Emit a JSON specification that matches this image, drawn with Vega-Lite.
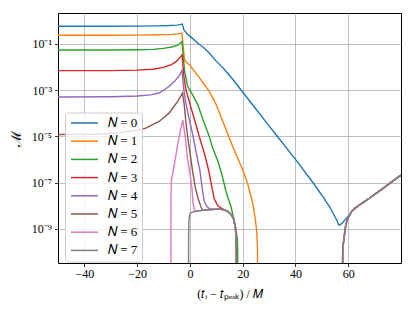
{
"$schema": "https://vega.github.io/schema/vega-lite/v6.json",
"width": 343, "height": 250,
"autosize": "none",
"padding": {"left": 58, "top": 13, "right": 14, "bottom": 48},
"background": "white",
"config": {"view": {"stroke": "black", "strokeWidth": 1}, "font": "Liberation Serif"},
"datasets": {
"curves": [
{"N":"𝑁 = 0","t":-50,"M":0.5754},{"N":"𝑁 = 0","t":-40,"M":0.5754},{"N":"𝑁 = 0","t":-30,"M":0.5754},{"N":"𝑁 = 0","t":-20,"M":0.5821},{"N":"𝑁 = 0","t":-12,"M":0.5957},{"N":"𝑁 = 0","t":-8,"M":0.6166},{"N":"𝑁 = 0","t":-5,"M":0.6457},{"N":"𝑁 = 0","t":-3.8,"M":0.6761},{"N":"𝑁 = 0","t":-2.9,"M":0.7079},{"N":"𝑁 = 0","t":-2.3,"M":0.4074},{"N":"𝑁 = 0","t":-0.8,"M":0.2455},{"N":"𝑁 = 0","t":0,"M":0.2138},{"N":"𝑁 = 0","t":3.5,"M":0.0955},{"N":"𝑁 = 0","t":5.5,"M":0.06457},{"N":"𝑁 = 0","t":7.3,"M":0.03981},{"N":"𝑁 = 0","t":10,"M":0.01778},{"N":"𝑁 = 0","t":13,"M":0.007943},{"N":"𝑁 = 0","t":16,"M":0.003162},{"N":"𝑁 = 0","t":19.4,"M":0.001},{"N":"𝑁 = 0","t":25,"M":1.514e-4},{"N":"𝑁 = 0","t":30,"M":2.818e-5},{"N":"𝑁 = 0","t":33.1,"M":1e-5},{"N":"𝑁 = 0","t":40,"M":1e-6},{"N":"𝑁 = 0","t":46.6,"M":1e-7},{"N":"𝑁 = 0","t":50,"M":2.818e-8},{"N":"𝑁 = 0","t":53,"M":8.71e-9},{"N":"𝑁 = 0","t":55.5,"M":2.512e-9},{"N":"𝑁 = 0","t":56.5,"M":1.413e-9},{"N":"𝑁 = 0","t":57.5,"M":1.66e-9},{"N":"𝑁 = 0","t":59.3,"M":2.818e-9},{"N":"𝑁 = 0","t":60.5,"M":4.169e-9},{"N":"𝑁 = 0","t":61.2,"M":5.37e-9},{"N":"𝑁 = 0","t":62.5,"M":7.586e-9},{"N":"𝑁 = 0","t":65,"M":1.23e-8},{"N":"𝑁 = 0","t":68,"M":2.089e-8},{"N":"𝑁 = 0","t":72,"M":4.467e-8},{"N":"𝑁 = 0","t":77,"M":1.175e-7},{"N":"𝑁 = 0","t":80,"M":2.089e-7},

{"N":"𝑁 = 1","t":-50,"M":0.2344},{"N":"𝑁 = 1","t":-30,"M":0.2344},{"N":"𝑁 = 1","t":-20,"M":0.2371},{"N":"𝑁 = 1","t":-12,"M":0.2455},{"N":"𝑁 = 1","t":-7,"M":0.257},{"N":"𝑁 = 1","t":-4.5,"M":0.2692},{"N":"𝑁 = 1","t":-3.05,"M":0.2884},{"N":"𝑁 = 1","t":-2.05,"M":0.02042},{"N":"𝑁 = 1","t":-1.2,"M":0.01514},{"N":"𝑁 = 1","t":0,"M":0.01175},{"N":"𝑁 = 1","t":3.5,"M":0.003548},{"N":"𝑁 = 1","t":5.5,"M":0.001698},{"N":"𝑁 = 1","t":7.3,"M":8.913e-4},{"N":"𝑁 = 1","t":10,"M":2.291e-4},{"N":"𝑁 = 1","t":13.7,"M":1.905e-5},{"N":"𝑁 = 1","t":16.8,"M":2.512e-6},{"N":"𝑁 = 1","t":18.5,"M":8.913e-7},{"N":"𝑁 = 1","t":20,"M":3.548e-7},{"N":"𝑁 = 1","t":22,"M":7.943e-8},{"N":"𝑁 = 1","t":23.8,"M":1.259e-8},{"N":"𝑁 = 1","t":24.8,"M":2.512e-9},{"N":"𝑁 = 1","t":25.3,"M":7.943e-10},{"N":"𝑁 = 1","t":25.6,"M":1.585e-10},{"N":"𝑁 = 1","t":25.7,"M":1e-12},

{"N":"𝑁 = 2","t":-50,"M":0.0537},{"N":"𝑁 = 2","t":-30,"M":0.0537},{"N":"𝑁 = 2","t":-20,"M":0.05495},{"N":"𝑁 = 2","t":-14,"M":0.05754},{"N":"𝑁 = 2","t":-10,"M":0.0631},{"N":"𝑁 = 2","t":-7,"M":0.07244},{"N":"𝑁 = 2","t":-5,"M":0.08318},{"N":"𝑁 = 2","t":-3.8,"M":0.1},{"N":"𝑁 = 2","t":-3,"M":0.1259},{"N":"𝑁 = 2","t":-2,"M":0.00631},{"N":"𝑁 = 2","t":-0.8,"M":0.001413},{"N":"𝑁 = 2","t":1,"M":6.31e-4},{"N":"𝑁 = 2","t":3,"M":2.291e-4},{"N":"𝑁 = 2","t":5,"M":5.012e-5},{"N":"𝑁 = 2","t":7.3,"M":1e-5},{"N":"𝑁 = 2","t":8.6,"M":3.162e-6},{"N":"𝑁 = 2","t":10.5,"M":8.913e-7},{"N":"𝑁 = 2","t":12,"M":2.512e-7},{"N":"𝑁 = 2","t":13.7,"M":3.981e-8},{"N":"𝑁 = 2","t":15.6,"M":8.71e-9},{"N":"𝑁 = 2","t":17.2,"M":1.413e-9},{"N":"𝑁 = 2","t":17.9,"M":4.365e-10},{"N":"𝑁 = 2","t":18.1,"M":1.259e-10},{"N":"𝑁 = 2","t":18.2,"M":1e-12},

{"N":"𝑁 = 3","t":-50,"M":0.006918},{"N":"𝑁 = 3","t":-30,"M":0.006918},{"N":"𝑁 = 3","t":-20,"M":0.007244},{"N":"𝑁 = 3","t":-14,"M":0.007943},{"N":"𝑁 = 3","t":-10,"M":0.00955},{"N":"𝑁 = 3","t":-7,"M":0.01259},{"N":"𝑁 = 3","t":-5,"M":0.01778},{"N":"𝑁 = 3","t":-3.8,"M":0.02512},{"N":"𝑁 = 3","t":-3,"M":0.03311},{"N":"𝑁 = 3","t":-2.3,"M":0.003981},{"N":"𝑁 = 3","t":-1.5,"M":0.001},{"N":"𝑁 = 3","t":0,"M":2.512e-4},{"N":"𝑁 = 3","t":2.3,"M":3.162e-5},{"N":"𝑁 = 3","t":3.5,"M":1e-5},{"N":"𝑁 = 3","t":5.4,"M":1.995e-6},{"N":"𝑁 = 3","t":7.1,"M":3.388e-7},{"N":"𝑁 = 3","t":8,"M":1e-7},{"N":"𝑁 = 3","t":9.2,"M":1.995e-8},{"N":"𝑁 = 3","t":10.5,"M":1e-8},{"N":"𝑁 = 3","t":12,"M":7.586e-9},{"N":"𝑁 = 3","t":13,"M":6.607e-9},{"N":"𝑁 = 3","t":14.3,"M":5.623e-9},{"N":"𝑁 = 3","t":15.5,"M":4.266e-9},{"N":"𝑁 = 3","t":16.5,"M":2.754e-9},{"N":"𝑁 = 3","t":17.2,"M":1.175e-9},{"N":"𝑁 = 3","t":17.5,"M":4.365e-10},{"N":"𝑁 = 3","t":17.6,"M":1e-10},{"N":"𝑁 = 3","t":17.65,"M":1e-12},{"N":"𝑁 = 3","t":57.8,"M":1e-12},{"N":"𝑁 = 3","t":57.9,"M":1e-10},{"N":"𝑁 = 3","t":58.1,"M":1.995e-10},{"N":"𝑁 = 3","t":58.4,"M":3.981e-10},{"N":"𝑁 = 3","t":59,"M":1.259e-9},{"N":"𝑁 = 3","t":59.5,"M":2.239e-9},{"N":"𝑁 = 3","t":60.3,"M":3.548e-9},{"N":"𝑁 = 3","t":61.2,"M":5.37e-9},{"N":"𝑁 = 3","t":62.5,"M":7.586e-9},{"N":"𝑁 = 3","t":65,"M":1.23e-8},{"N":"𝑁 = 3","t":68,"M":2.089e-8},{"N":"𝑁 = 3","t":72,"M":4.467e-8},{"N":"𝑁 = 3","t":77,"M":1.175e-7},{"N":"𝑁 = 3","t":80,"M":2.089e-7},

{"N":"𝑁 = 4","t":-50,"M":5.012e-4},{"N":"𝑁 = 4","t":-30,"M":5.129e-4},{"N":"𝑁 = 4","t":-20,"M":5.495e-4},{"N":"𝑁 = 4","t":-15,"M":6.166e-4},{"N":"𝑁 = 4","t":-11.7,"M":7.413e-4},{"N":"𝑁 = 4","t":-7.9,"M":0.001413},{"N":"𝑁 = 4","t":-5.3,"M":0.002754},{"N":"𝑁 = 4","t":-4,"M":0.004169},{"N":"𝑁 = 4","t":-3,"M":0.007079},{"N":"𝑁 = 4","t":-2.3,"M":0.001},{"N":"𝑁 = 4","t":-1.5,"M":2.512e-4},{"N":"𝑁 = 4","t":0,"M":3.981e-5},{"N":"𝑁 = 4","t":1,"M":1.259e-5},{"N":"𝑁 = 4","t":2.9,"M":1e-6},{"N":"𝑁 = 4","t":3.8,"M":3.162e-7},{"N":"𝑁 = 4","t":4.6,"M":6.31e-8},{"N":"𝑁 = 4","t":5.4,"M":1.585e-8},{"N":"𝑁 = 4","t":6.5,"M":8.913e-9},{"N":"𝑁 = 4","t":7.5,"M":7.244e-9},{"N":"𝑁 = 4","t":8,"M":6.761e-9},{"N":"𝑁 = 4","t":11.1,"M":7.079e-9},{"N":"𝑁 = 4","t":13,"M":6.607e-9},{"N":"𝑁 = 4","t":14.3,"M":5.623e-9},{"N":"𝑁 = 4","t":15.5,"M":4.266e-9},{"N":"𝑁 = 4","t":16.5,"M":2.754e-9},{"N":"𝑁 = 4","t":17.2,"M":1.175e-9},{"N":"𝑁 = 4","t":17.5,"M":4.365e-10},{"N":"𝑁 = 4","t":17.6,"M":1e-10},{"N":"𝑁 = 4","t":17.65,"M":1e-12},{"N":"𝑁 = 4","t":57.8,"M":1e-12},{"N":"𝑁 = 4","t":57.9,"M":1e-10},{"N":"𝑁 = 4","t":58.1,"M":1.995e-10},{"N":"𝑁 = 4","t":58.4,"M":3.981e-10},{"N":"𝑁 = 4","t":59,"M":1.259e-9},{"N":"𝑁 = 4","t":59.5,"M":2.239e-9},{"N":"𝑁 = 4","t":60.3,"M":3.548e-9},{"N":"𝑁 = 4","t":61.2,"M":5.37e-9},{"N":"𝑁 = 4","t":62.5,"M":7.586e-9},{"N":"𝑁 = 4","t":65,"M":1.23e-8},{"N":"𝑁 = 4","t":68,"M":2.089e-8},{"N":"𝑁 = 4","t":72,"M":4.467e-8},{"N":"𝑁 = 4","t":77,"M":1.175e-7},{"N":"𝑁 = 4","t":80,"M":2.089e-7},

{"N":"𝑁 = 5","t":-50,"M":1.202e-5},{"N":"𝑁 = 5","t":-35,"M":1.23e-5},{"N":"𝑁 = 5","t":-28,"M":1.38e-5},{"N":"𝑁 = 5","t":-24.3,"M":1.585e-5},{"N":"𝑁 = 5","t":-20,"M":1.82e-5},{"N":"𝑁 = 5","t":-16.7,"M":2.239e-5},{"N":"𝑁 = 5","t":-11.7,"M":4.365e-5},{"N":"𝑁 = 5","t":-7.9,"M":1e-4},{"N":"𝑁 = 5","t":-4.7,"M":3.162e-4},{"N":"𝑁 = 5","t":-2.8,"M":7.413e-4},{"N":"𝑁 = 5","t":-2.2,"M":2.512e-4},{"N":"𝑁 = 5","t":-1.5,"M":3.981e-5},{"N":"𝑁 = 5","t":-0.9,"M":1e-5},{"N":"𝑁 = 5","t":0,"M":1.995e-6},{"N":"𝑁 = 5","t":1,"M":3.162e-7},{"N":"𝑁 = 5","t":2,"M":6.457e-8},{"N":"𝑁 = 5","t":2.9,"M":2.399e-8},{"N":"𝑁 = 5","t":4.2,"M":8.71e-9},{"N":"𝑁 = 5","t":4.8,"M":6.31e-9},{"N":"𝑁 = 5","t":8,"M":6.761e-9},{"N":"𝑁 = 5","t":11.1,"M":7.079e-9},{"N":"𝑁 = 5","t":13,"M":6.607e-9},{"N":"𝑁 = 5","t":14.3,"M":5.623e-9},{"N":"𝑁 = 5","t":15.5,"M":4.266e-9},{"N":"𝑁 = 5","t":16.5,"M":2.754e-9},{"N":"𝑁 = 5","t":17.2,"M":1.175e-9},{"N":"𝑁 = 5","t":17.5,"M":4.365e-10},{"N":"𝑁 = 5","t":17.6,"M":1e-10},{"N":"𝑁 = 5","t":17.65,"M":1e-12},{"N":"𝑁 = 5","t":57.8,"M":1e-12},{"N":"𝑁 = 5","t":57.9,"M":1e-10},{"N":"𝑁 = 5","t":58.1,"M":1.995e-10},{"N":"𝑁 = 5","t":58.4,"M":3.981e-10},{"N":"𝑁 = 5","t":59,"M":1.259e-9},{"N":"𝑁 = 5","t":59.5,"M":2.239e-9},{"N":"𝑁 = 5","t":60.3,"M":3.548e-9},{"N":"𝑁 = 5","t":61.2,"M":5.37e-9},{"N":"𝑁 = 5","t":62.5,"M":7.586e-9},{"N":"𝑁 = 5","t":65,"M":1.23e-8},{"N":"𝑁 = 5","t":68,"M":2.089e-8},{"N":"𝑁 = 5","t":72,"M":4.467e-8},{"N":"𝑁 = 5","t":77,"M":1.175e-7},{"N":"𝑁 = 5","t":80,"M":2.089e-7},

{"N":"𝑁 = 6","t":-7.25,"M":1e-12},{"N":"𝑁 = 6","t":-7.2,"M":3.162e-9},{"N":"𝑁 = 6","t":-7.15,"M":5.012e-8},{"N":"𝑁 = 6","t":-7,"M":1.259e-7},{"N":"𝑁 = 6","t":-6.3,"M":3.388e-7},{"N":"𝑁 = 6","t":-4.7,"M":3.981e-6},{"N":"𝑁 = 6","t":-3.5,"M":1.995e-5},{"N":"𝑁 = 6","t":-2.7,"M":5.012e-5},{"N":"𝑁 = 6","t":-1.8,"M":1e-5},{"N":"𝑁 = 6","t":-1,"M":1.259e-6},{"N":"𝑁 = 6","t":0,"M":2.512e-7},{"N":"𝑁 = 6","t":0.8,"M":5.012e-8},{"N":"𝑁 = 6","t":1.2,"M":1.259e-8},{"N":"𝑁 = 6","t":1.8,"M":5.888e-9},{"N":"𝑁 = 6","t":2,"M":5.623e-9},{"N":"𝑁 = 6","t":4.8,"M":6.31e-9},{"N":"𝑁 = 6","t":8,"M":6.761e-9},{"N":"𝑁 = 6","t":11.1,"M":7.079e-9},{"N":"𝑁 = 6","t":13,"M":6.607e-9},{"N":"𝑁 = 6","t":14.3,"M":5.623e-9},{"N":"𝑁 = 6","t":15.5,"M":4.266e-9},{"N":"𝑁 = 6","t":16.5,"M":2.754e-9},{"N":"𝑁 = 6","t":17.2,"M":1.175e-9},{"N":"𝑁 = 6","t":17.5,"M":4.365e-10},{"N":"𝑁 = 6","t":17.6,"M":1e-10},{"N":"𝑁 = 6","t":17.65,"M":1e-12},{"N":"𝑁 = 6","t":57.8,"M":1e-12},{"N":"𝑁 = 6","t":57.9,"M":1e-10},{"N":"𝑁 = 6","t":58.1,"M":1.995e-10},{"N":"𝑁 = 6","t":58.4,"M":3.981e-10},{"N":"𝑁 = 6","t":59,"M":1.259e-9},{"N":"𝑁 = 6","t":59.5,"M":2.239e-9},{"N":"𝑁 = 6","t":60.3,"M":3.548e-9},{"N":"𝑁 = 6","t":61.2,"M":5.37e-9},{"N":"𝑁 = 6","t":62.5,"M":7.586e-9},{"N":"𝑁 = 6","t":65,"M":1.23e-8},{"N":"𝑁 = 6","t":68,"M":2.089e-8},{"N":"𝑁 = 6","t":72,"M":4.467e-8},{"N":"𝑁 = 6","t":77,"M":1.175e-7},{"N":"𝑁 = 6","t":80,"M":2.089e-7},

{"N":"𝑁 = 7","t":-0.55,"M":1e-12},{"N":"𝑁 = 7","t":-0.5,"M":3.162e-10},{"N":"𝑁 = 7","t":-0.4,"M":1.995e-9},{"N":"𝑁 = 7","t":-0.1,"M":3.981e-9},{"N":"𝑁 = 7","t":0.4,"M":5.012e-9},{"N":"𝑁 = 7","t":2,"M":5.623e-9},{"N":"𝑁 = 7","t":4.8,"M":6.31e-9},{"N":"𝑁 = 7","t":8,"M":6.761e-9},{"N":"𝑁 = 7","t":11.1,"M":7.079e-9},{"N":"𝑁 = 7","t":13,"M":6.607e-9},{"N":"𝑁 = 7","t":14.3,"M":5.623e-9},{"N":"𝑁 = 7","t":15.5,"M":4.266e-9},{"N":"𝑁 = 7","t":16.5,"M":2.754e-9},{"N":"𝑁 = 7","t":17.2,"M":1.175e-9},{"N":"𝑁 = 7","t":17.5,"M":4.365e-10},{"N":"𝑁 = 7","t":17.6,"M":1e-10},{"N":"𝑁 = 7","t":17.65,"M":1e-12},{"N":"𝑁 = 7","t":57.8,"M":1e-12},{"N":"𝑁 = 7","t":57.9,"M":1e-10},{"N":"𝑁 = 7","t":58.1,"M":1.995e-10},{"N":"𝑁 = 7","t":58.4,"M":3.981e-10},{"N":"𝑁 = 7","t":59,"M":1.259e-9},{"N":"𝑁 = 7","t":59.5,"M":2.239e-9},{"N":"𝑁 = 7","t":60.3,"M":3.548e-9},{"N":"𝑁 = 7","t":61.2,"M":5.37e-9},{"N":"𝑁 = 7","t":62.5,"M":7.586e-9},{"N":"𝑁 = 7","t":65,"M":1.23e-8},{"N":"𝑁 = 7","t":68,"M":2.089e-8},{"N":"𝑁 = 7","t":72,"M":4.467e-8},{"N":"𝑁 = 7","t":77,"M":1.175e-7},{"N":"𝑁 = 7","t":80,"M":2.089e-7}
]
},
"data": {"name": "curves"},
"mark": {"type": "line", "strokeWidth": 1.4, "clip": true},
"encoding": {
  "x": {"field": "t", "type": "quantitative",
        "scale": {"domain": [-50, 80], "nice": false, "zero": false},
        "axis": {"values": [-40, -20, 0, 20, 40, 60], "title": "(𝑡ᵢ − 𝑡ₚₑₐₖ) / 𝑀",
                 "grid": true, "gridColor": "#b0b0b0", "gridWidth": 0.8,
                 "domain": false, "tickColor": "black", "tickSize": 3.5, "tickWidth": 0.8,
                 "labelFont": "Liberation Serif", "labelFontSize": 12, "labelColor": "black", "labelPadding": 2,
                 "titleFont": "Liberation Serif", "titleFontSize": 12, "titleFontWeight": "normal", "titleColor": "black", "titlePadding": 9}},
  "y": {"field": "M", "type": "quantitative",
        "scale": {"type": "log", "domain": [3.3e-11, 2.15], "nice": false},
        "axis": {"values": [0.1, 0.001, 1e-5, 1e-7, 1e-9],
                 "labelExpr": "datum.value > 0.05 ? '10⁻¹' : datum.value > 5e-4 ? '10⁻³' : datum.value > 5e-6 ? '10⁻⁵' : datum.value > 5e-8 ? '10⁻⁷' : '10⁻⁹'",
                 "title": "ℳ", "grid": true, "gridColor": "#b0b0b0", "gridWidth": 0.8,
                 "domain": false, "tickColor": "black", "tickSize": 3.5, "tickWidth": 0.8,
                 "labelFont": "Liberation Serif", "labelFontSize": 12, "labelColor": "black", "labelPadding": 3,
                 "titleFont": "Liberation Serif", "titleFontSize": 14, "titleFontWeight": "normal", "titleColor": "black", "titlePadding": 8}},
  "color": {"field": "N", "type": "nominal",
            "scale": {"domain": ["𝑁 = 0","𝑁 = 1","𝑁 = 2","𝑁 = 3","𝑁 = 4","𝑁 = 5","𝑁 = 6","𝑁 = 7"],
                      "range": ["#1f77b4","#ff7f0e","#2ca02c","#d62728","#9467bd","#8c564b","#e377c2","#7f7f7f"]},
            "legend": {"orient": "none", "legendX": 7, "legendY": 99.5, "title": null,
                       "symbolType": "M-1,0H5", "symbolSize": 81, "symbolStrokeWidth": 1.5,
                       "labelFont": "Liberation Serif", "labelFontSize": 13, "labelColor": "black", "labelOffset": 26,
                       "rowPadding": 4.2, "padding": 4, "fillColor": "rgba(255,255,255,0.8)",
                       "strokeColor": "#cccccc", "cornerRadius": 3}}
}
}
